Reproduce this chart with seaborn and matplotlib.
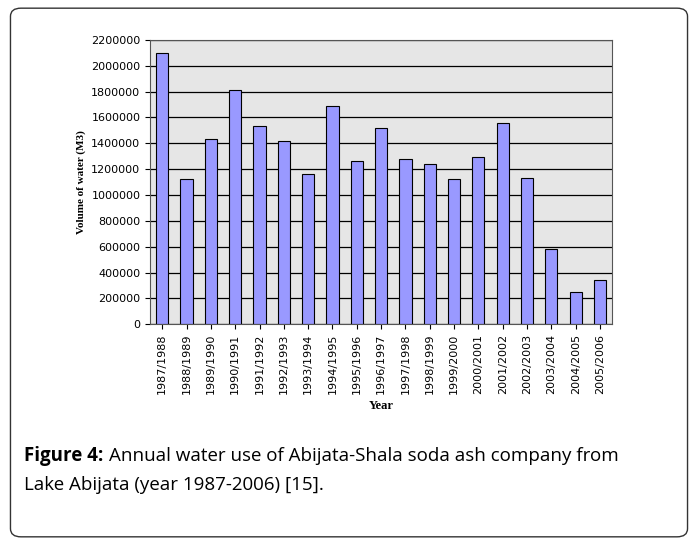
import matplotlib
matplotlib.use("Agg")
import matplotlib.pyplot as plt
import seaborn as sns
import pandas as pd
from matplotlib.patches import FancyBboxPatch

years = ["1987/1988","1988/1989","1989/1990","1990/1991","1991/1992","1992/1993","1993/1994",
         "1994/1995","1995/1996","1996/1997","1997/1998","1998/1999","1999/2000","2000/2001",
         "2001/2002","2002/2003","2003/2004","2004/2005","2005/2006"]
volume = [2100000,1120000,1430000,1810000,1530000,1420000,1165000,1685000,1260000,1520000,
          1280000,1240000,1120000,1290000,1555000,1130000,580000,250000,340000]
yticks = list(range(0, 2200001, 200000))

df = pd.DataFrame({"Year": years, "Volume": volume})
fig = plt.figure(figsize=(6.98, 5.45), dpi=100)
fig.patches.append(FancyBboxPatch((0.015, 0.015), 0.97, 0.97, boxstyle="round,pad=0,rounding_size=0.015",
                                  transform=fig.transFigure, fill=False, edgecolor="#333333", lw=1))
ax = fig.add_axes([0.215, 0.405, 0.662, 0.522])
ax.set_facecolor("#e6e6e6")
ax.set_axisbelow(True)
for t in yticks:
    ax.axhline(t, color="black", lw=0.9, zorder=0)
sns.barplot(data=df, x="Year", y="Volume", color="#9999ff", edgecolor="black", linewidth=0.8,
            width=0.5, saturation=1, ax=ax, zorder=2)
ax.set_ylim(0, 2200000)
ax.set_yticks(yticks)
ax.set_yticklabels([str(t) for t in yticks], fontsize=8)
ax.set_xticks(range(len(years)))
ax.set_xticklabels(years, rotation=90, fontsize=8)
ax.set_xlim(-0.5, len(years) - 0.5)
ax.set_xlabel("Year", fontsize=9, fontweight="bold", family="Liberation Serif")
ax.set_ylabel("Volume of water (M3)", fontsize=8, fontweight="bold", family="Liberation Serif")
for s in ax.spines.values():
    s.set_color("#555555")
t1 = fig.text(0.035, 0.155, "Figure 4:", fontsize=13.5, family="Open Sans", fontweight="bold")
fig.canvas.draw()
bb = t1.get_window_extent()
fig.text(bb.x1 / fig.bbox.width + 0.007, 0.155,
         "Annual water use of Abijata-Shala soda ash company from",
         fontsize=13.5, family="Open Sans")
fig.text(0.035, 0.10, "Lake Abijata (year 1987-2006) [15].", fontsize=13.5, family="Open Sans")
fig.savefig("out.png", dpi=100)
